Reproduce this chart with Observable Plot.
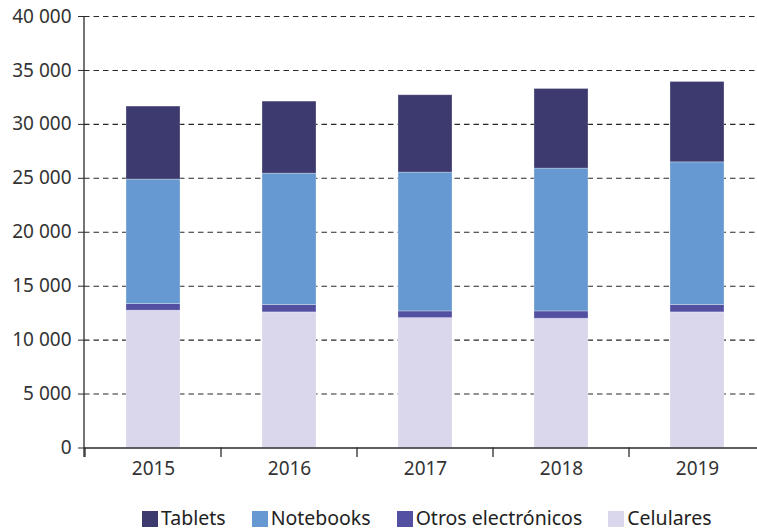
<!DOCTYPE html>
<html><head><meta charset="utf-8">
<script src="https://cdn.jsdelivr.net/npm/d3@7"></script>
<script src="https://cdn.jsdelivr.net/npm/@observablehq/plot@0.6"></script>
<style>
html,body{margin:0;padding:0;background:#fff;}
#wrap{width:757px;height:531px;overflow:hidden;position:relative;font-family:"Noto Sans",sans-serif;}
#chart svg{max-width:none !important;display:block;}
#legend{position:absolute;left:142px;top:507px;display:flex;align-items:center;font-size:19.5px;line-height:22px;color:#222;white-space:nowrap;}
.item{display:flex;align-items:center;margin-right:26px;}
.sw{width:16px;height:16px;margin-right:3px;margin-top:2px;}
</style></head><body><div id="wrap"><div id="chart"></div><div id="legend"></div></div>
<script>
const years = ["2015","2016","2017","2018","2019"];
const celulares = [12730,12570,12040,11980,12570];
const otros = [610,680,620,680,680];
const notebooks = [11540,12180,12870,13240,13230];
const tablets = [6770,6680,7170,7380,7450];
const yTicks = [0,5000,10000,15000,20000,25000,30000,35000,40000];
const legendOrder = ["Tablets","Notebooks","Otros electrónicos","Celulares"];
const legendColors = ["#3c3a6e","#6699d1","#5350a2","#dad6eb"];

const stackSeries = [["Celulares",celulares],["Otros electrónicos",otros],["Notebooks",notebooks],["Tablets",tablets]];
const data = [];
years.forEach((yr,i)=>{ for (const [name,vals] of stackSeries) data.push({year:yr, series:name, value:vals[i]}); });

const fmt = d => d3.format(",")(d).replace(/,/g," ");

function axisLines(index, scales, values, dimensions) {
  const x = scales.x, y = scales.y;
  const g = d3.create("svg:g").attr("stroke","#2a2a2a").attr("stroke-width",1.3).attr("fill","none");
  const y0 = y(0);
  const left = dimensions.marginLeft;
  g.append("line").attr("x1",left).attr("x2",left).attr("y1",y(40000)).attr("y2",y0+9.5);
  const bw = x.bandwidth();
  const step = x.step ? x.step() : bw/(1-0.6);
  for (const yr of years) {
    const bx = x(yr) - (step-bw)/2;
    g.append("line").attr("x1",bx).attr("x2",bx).attr("y1",y0).attr("y2",y0+9.5);
  }
  return g.node();
}

const chart = Plot.plot({
  width: 766,
  height: 490,
  marginTop: 16,
  marginBottom: 42.5,
  marginLeft: 84,
  marginRight: 0,
  style: {fontFamily:'"Noto Sans", sans-serif', fontSize:"19px", color:"#333", maxWidth:"none"},
  x: {domain: years, paddingInner: 0.6, paddingOuter: 0.3, label: null},
  y: {domain: [0,40000], label: null},
  color: {domain: legendOrder, range: legendColors},
  marks: [
    Plot.gridY(yTicks.filter(d=>d>0), {stroke:"#111", strokeOpacity:0.9, strokeDasharray:"5.5,4", strokeWidth:1.1}),
    Plot.barY(data, {x:"year", y:"value", fill:"series", stroke:"#ffffff", strokeOpacity:0.35, strokeWidth:0.8}),
    Plot.ruleY([0], {stroke:"#2a2a2a", strokeWidth:1.3}),
    Plot.axisY({ticks: yTicks, tickFormat: fmt, tickSize: 6, tickPadding: 7, label: null, stroke:"#2a2a2a", fill:"#333"}),
    Plot.axisX({tickSize: 0, tickPadding: 13, label: null, fill:"#333"}),
    axisLines
  ]
});
document.getElementById("chart").appendChild(chart);

const leg = document.getElementById("legend");
legendOrder.forEach((name,i)=>{
  const it = document.createElement("div"); it.className="item";
  const sw = document.createElement("div"); sw.className="sw"; sw.style.background = chart.scale("color").apply(name);
  const tx = document.createElement("span"); tx.textContent = name;
  it.appendChild(sw); it.appendChild(tx); leg.appendChild(it);
});
</script></body></html>
